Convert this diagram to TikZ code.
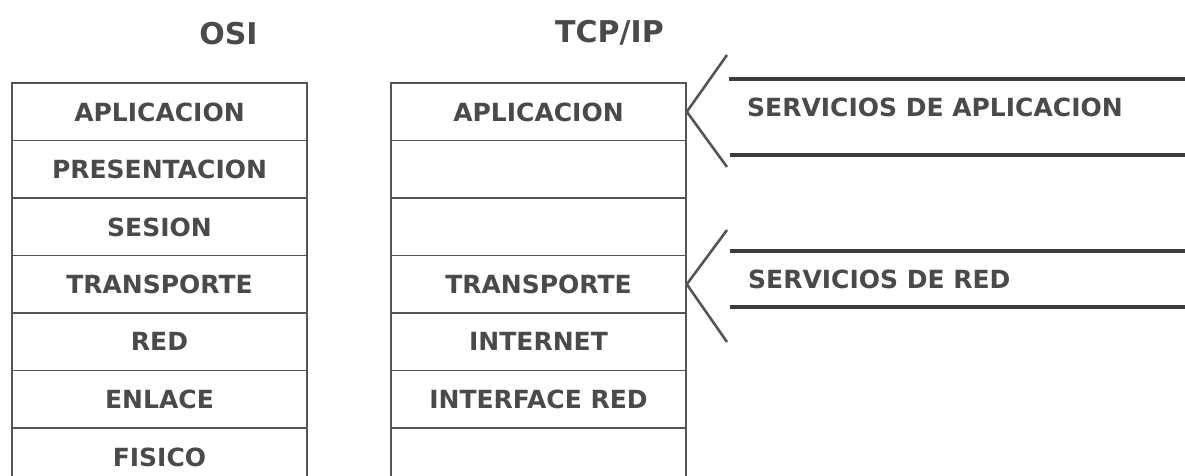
\documentclass[tikz,border=0pt]{standalone}
\usepackage{fontspec}
\setmainfont{DejaVu Sans}
\definecolor{textgray}{HTML}{4A4A4A}
\definecolor{boxgray}{HTML}{555555}
\definecolor{bargray}{HTML}{3C3C3C}
\tikzset{
  layer/.style={draw=boxgray, line width=1.6pt, minimum width=295pt, minimum height=57.5pt,
    inner sep=0pt, text=textgray, font=\bfseries\fontsize{25}{30}\selectfont, text depth=0pt},
  title/.style={text=textgray, font=\bfseries\fontsize{30}{36}\selectfont, anchor=base, inner sep=0pt},
  svclabel/.style={text=textgray, font=\bfseries\fontsize{25}{30}\selectfont, anchor=base west, inner sep=0pt},
  bracket/.style={draw=boxgray, line width=2.6pt},
  bar/.style={draw=bargray, line width=3.6pt}
}
\begin{document}
\begin{tikzpicture}[x=1pt,y=-1pt]
\useasboundingbox (0,0) rectangle (1185,476);
\fill[white] (0,0) rectangle (1185,476);
\clip (0,0) rectangle (1185,476);

% titles
\node[title] (tosi) at (228.5,45) {OSI};
\node[title] (ttcp) at (609.5,43) {TCP/IP};

% OSI stack
\node[layer] (o1) at (159.5,111.75) {APLICACION};
\node[layer] (o2) at (159.5,169.25) {PRESENTACION};
\node[layer] (o3) at (159.5,226.75) {SESION};
\node[layer] (o4) at (159.5,284.25) {TRANSPORTE};
\node[layer] (o5) at (159.5,341.75) {RED};
\node[layer] (o6) at (159.5,399.25) {ENLACE};
\node[layer] (o7) at (159.5,456.75) {FISICO};

% TCP/IP stack
\node[layer] (t1) at (538.5,111.75) {APLICACION};
\node[layer] (t2) at (538.5,169.25) {};
\node[layer] (t3) at (538.5,226.75) {};
\node[layer] (t4) at (538.5,284.25) {TRANSPORTE};
\node[layer] (t5) at (538.5,341.75) {INTERNET};
\node[layer] (t6) at (538.5,399.25) {INTERFACE RED};
\node[layer] (t7) at (538.5,456.75) {};

% brackets
\coordinate (b1u) at (727,55);
\coordinate (b1d) at (727,167);
\coordinate (b2u) at (727,230);
\coordinate (b2d) at (727,342);
\draw[bracket] (b1u) -- (t1.east) -- (b1d);
\draw[bracket] (b2u) -- (t4.east) -- (b2d);

% bars
\coordinate (h1l) at (729,79);   \coordinate (h1r) at (1190,79);
\coordinate (h2l) at (730,155);  \coordinate (h2r) at (1190,155);
\coordinate (h3l) at (730,251);  \coordinate (h3r) at (1190,251);
\coordinate (h4l) at (730,307);  \coordinate (h4r) at (1190,307);
\draw[bar] (h1l) -- (h1r);
\draw[bar] (h2l) -- (h2r);
\draw[bar] (h3l) -- (h3r);
\draw[bar] (h4l) -- (h4r);

% labels
\node[svclabel] (sa) at (747,117) {SERVICIOS DE APLICACION};
\node[svclabel] (sr) at (748,288) {SERVICIOS DE RED};
\end{tikzpicture}
\end{document}
